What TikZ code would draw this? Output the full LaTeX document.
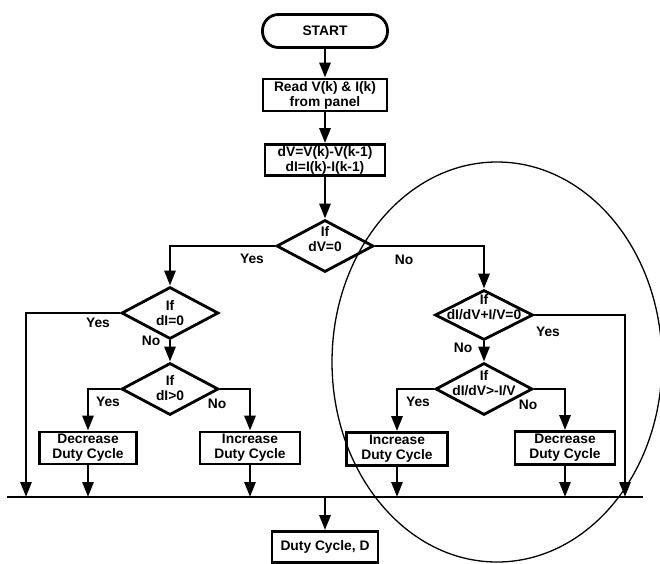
\documentclass[tikz,border=0pt]{standalone}
\usepackage{fontspec}
\setmainfont{Liberation Sans}
\usetikzlibrary{arrows.meta, shapes.geometric}

\tikzset{
  flow/.style={line width=2.8pt, -{Triangle[length=15pt,width=11pt]}},
  plain/.style={line width=2.8pt},
  terminal/.style={draw, line width=2.8pt, rounded corners=16pt, minimum width=125pt, minimum height=33pt, align=center},
  process/.style={draw, line width=2.8pt, minimum width=100pt, minimum height=32pt, align=center, inner sep=1pt},
  decision/.style={draw, diamond, line width=2.8pt, minimum width=97pt, minimum height=52pt, inner sep=0pt},
  dtext/.style={align=center, inner sep=0pt},
  answer/.style={inner sep=0pt}
}

\begin{document}
\begin{tikzpicture}[x=1pt, y=-1pt, every node/.append style={font=\bfseries\fontsize{13.8}{15}\selectfont}]
  \useasboundingbox (0,0) rectangle (660,563);

  % main column
  \node[terminal] (start) at (325,31) {START};
  \node[process, minimum width=124pt] (read) at (325,95) {Read V(k) \& I(k)\\from panel};
  \node[process, minimum width=120pt, minimum height=31pt] (diff) at (325,160) {dV=V(k)-V(k-1)\\dI=I(k)-I(k-1)};
  \node[decision, label={[dtext, yshift=7pt]center:If\\dV=0}] (dv) at (325,246) {};

  % left branch
  \node[decision, label={[dtext]center:If\\dI=0}] (di0) at (170,313) {};
  \node[decision, label={[dtext, yshift=1pt]center:If\\dI>0}] (dig) at (170,389) {};
  \node[process, minimum width=97pt] (dec1) at (88,448) {Decrease\\Duty Cycle};
  \node[process] (inc1) at (250,448) {Increase\\Duty Cycle};

  % right branch
  \node[decision, minimum width=98pt, minimum height=50pt, label={[dtext, yshift=8pt]center:If\\dI/dV+I/V=0}] (dinc) at (484,315) {};
  \node[decision, label={[dtext, yshift=6pt]center:If\\dI/dV>-I/V}] (dgt) at (484,389) {};
  \node[process, minimum width=101pt, minimum height=33pt] (inc2) at (397,449) {Increase\\Duty Cycle};
  \node[process, minimum height=33pt] (dec2) at (565,448) {Decrease\\Duty Cycle};

  \node[process, minimum width=106pt, minimum height=31pt] (duty) at (325,547) {Duty Cycle, D};

  % yes / no
  \node[answer] (yesdv) at (252,259) {Yes};
  \node[answer] (nodv) at (404,260) {No};
  \node[answer] (yesdi0) at (98,323) {Yes};
  \node[answer] (nodi0) at (151,341) {No};
  \node[answer] (yesdig) at (108,402) {Yes};
  \node[answer] (nodig) at (217,404) {No};
  \node[answer] (yesdinc) at (548,332) {Yes};
  \node[answer] (nodinc) at (463,348) {No};
  \node[answer] (yesdgt) at (418,402) {Yes};
  \node[answer] (nodgt) at (528,405) {No};

  % bus
  \coordinate (busl) at (7,497);
  \coordinate (busr) at (643,497);
  \coordinate (bout) at (325,497);
  \coordinate (byes1) at (26,497);
  \coordinate (byes2) at (625,497);

  \draw[flow] (start) -- (read);
  \draw[flow] (read) -- (diff);
  \draw[flow] (diff) -- (dv);
  \draw[flow] (dv.west) -| (di0.north);
  \draw[flow] (dv.east) -| (dinc.north);
  \draw[flow] (di0.west) -| (byes1);
  \draw[flow] (di0) -- (dig);
  \draw[flow] (dig.west) -| (dec1.north);
  \draw[flow] (dig.east) -| (inc1.north);
  \draw[flow] (dinc.east) -| (byes2);
  \draw[flow] (dinc) -- (dgt);
  \draw[flow] (dgt.west) -| (inc2.north);
  \draw[flow] (dgt.east) -| (dec2.north);
  \foreach \b in {dec1,inc1,inc2,dec2}
    \draw[flow] (\b) -- (\b.south |- busl);
  \draw[plain] (busl) -- (busr);
  \draw[flow] (bout) -- (duty);

  % marked region
  \draw[line width=1.3pt] (497,362) ellipse [x radius=165pt, y radius=200pt];
\end{tikzpicture}
\end{document}
